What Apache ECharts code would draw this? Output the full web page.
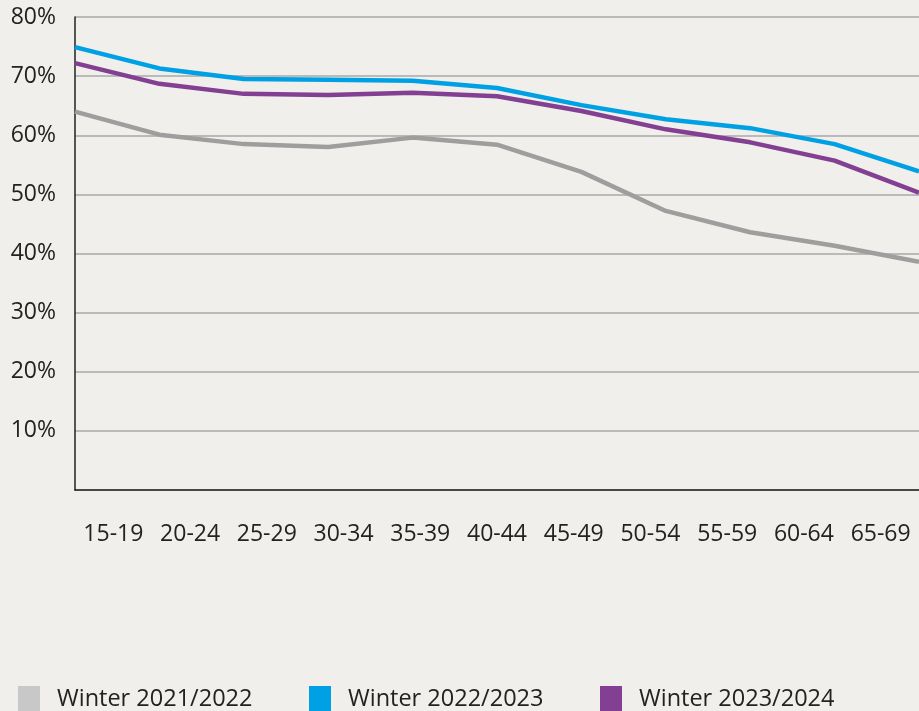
<!DOCTYPE html>
<html>
<head>
<meta charset="utf-8">
<script src="https://cdn.jsdelivr.net/npm/echarts@6/dist/echarts.min.js"></script>
<style>
  html, body { margin: 0; padding: 0; background: #f0efeb; }
  #chart { width: 919px; height: 711px; }
</style>
</head>
<body>
<div id="chart"></div>
<script>
var ageGroups = ['15-19', '20-24', '25-29', '30-34', '35-39', '40-44', '45-49', '50-54', '55-59', '60-64', '65-69'];
var winter2122 = [64.0, 60.1, 58.5, 58.0, 59.6, 58.4, 53.8, 47.2, 43.6, 41.3, 38.6];
var winter2223 = [74.9, 71.3, 69.5, 69.4, 69.2, 68.0, 65.1, 62.7, 61.2, 58.5, 53.9];
var winter2324 = [72.2, 68.7, 67.0, 66.8, 67.2, 66.6, 64.1, 61.0, 58.8, 55.7, 50.3];
var seriesNames = ['Winter 2021/2022', 'Winter 2022/2023', 'Winter 2023/2024'];
var yTicks = [0, 10, 20, 30, 40, 50, 60, 70, 80];

var font = 'Open Sans';
var lineColors = ['#9e9e9e', '#00a1e4', '#833f91'];
var swatchColors = ['#c8c8c8', '#00a1e4', '#833f91'];
var legendLeft = [18, 309, 600];

var chart = echarts.init(document.getElementById('chart'));

var legends = seriesNames.map(function (name, i) {
  return {
    left: legendLeft[i],
    top: 686,
    padding: 0,
    itemWidth: 22,
    itemHeight: 26,
    icon: 'rect',
    data: [{ name: name, itemStyle: { color: swatchColors[i] } }],
    textStyle: { fontFamily: font, fontSize: 23.5, color: '#222', padding: [2, 0, 0, 12] },
    selectedMode: false
  };
});

var option = {
  backgroundColor: '#f0efeb',
  animation: false,
  legend: legends,
  grid: { left: 75, right: 0, top: 17, bottom: 221, containLabel: false },
  xAxis: [{
    type: 'category',
    data: ageGroups,
    boundaryGap: true,
    axisLine: { lineStyle: { color: '#222', width: 1.5 } },
    axisTick: { show: false },
    axisLabel: { fontFamily: font, fontSize: 23, color: '#222', margin: 33, interval: 0 }
  }, {
    type: 'category',
    data: ageGroups,
    boundaryGap: false,
    position: 'bottom',
    show: false
  }],
  yAxis: {
    type: 'value',
    min: yTicks[0],
    max: yTicks[yTicks.length - 1],
    interval: 10,
    axisLine: { show: true, lineStyle: { color: '#222', width: 1.5 } },
    axisTick: { show: false },
    splitLine: { lineStyle: { color: '#a9a9a9', width: 1.5 } },
    axisLabel: {
      fontFamily: font, fontSize: 23, color: '#222', margin: 19, padding: [4, 0, 0, 0],
      formatter: function (v) { return v === 0 ? '' : v + '%'; }
    }
  },
  series: [winter2122, winter2223, winter2324].map(function (vals, i) {
    return {
      name: seriesNames[i],
      type: 'line',
      xAxisIndex: 1,
      data: vals,
      showSymbol: false,
      symbol: 'none',
      itemStyle: { color: lineColors[i] },
      lineStyle: { color: lineColors[i], width: 4.5 }
    };
  })
};
chart.setOption(option);
</script>
</body>
</html>
